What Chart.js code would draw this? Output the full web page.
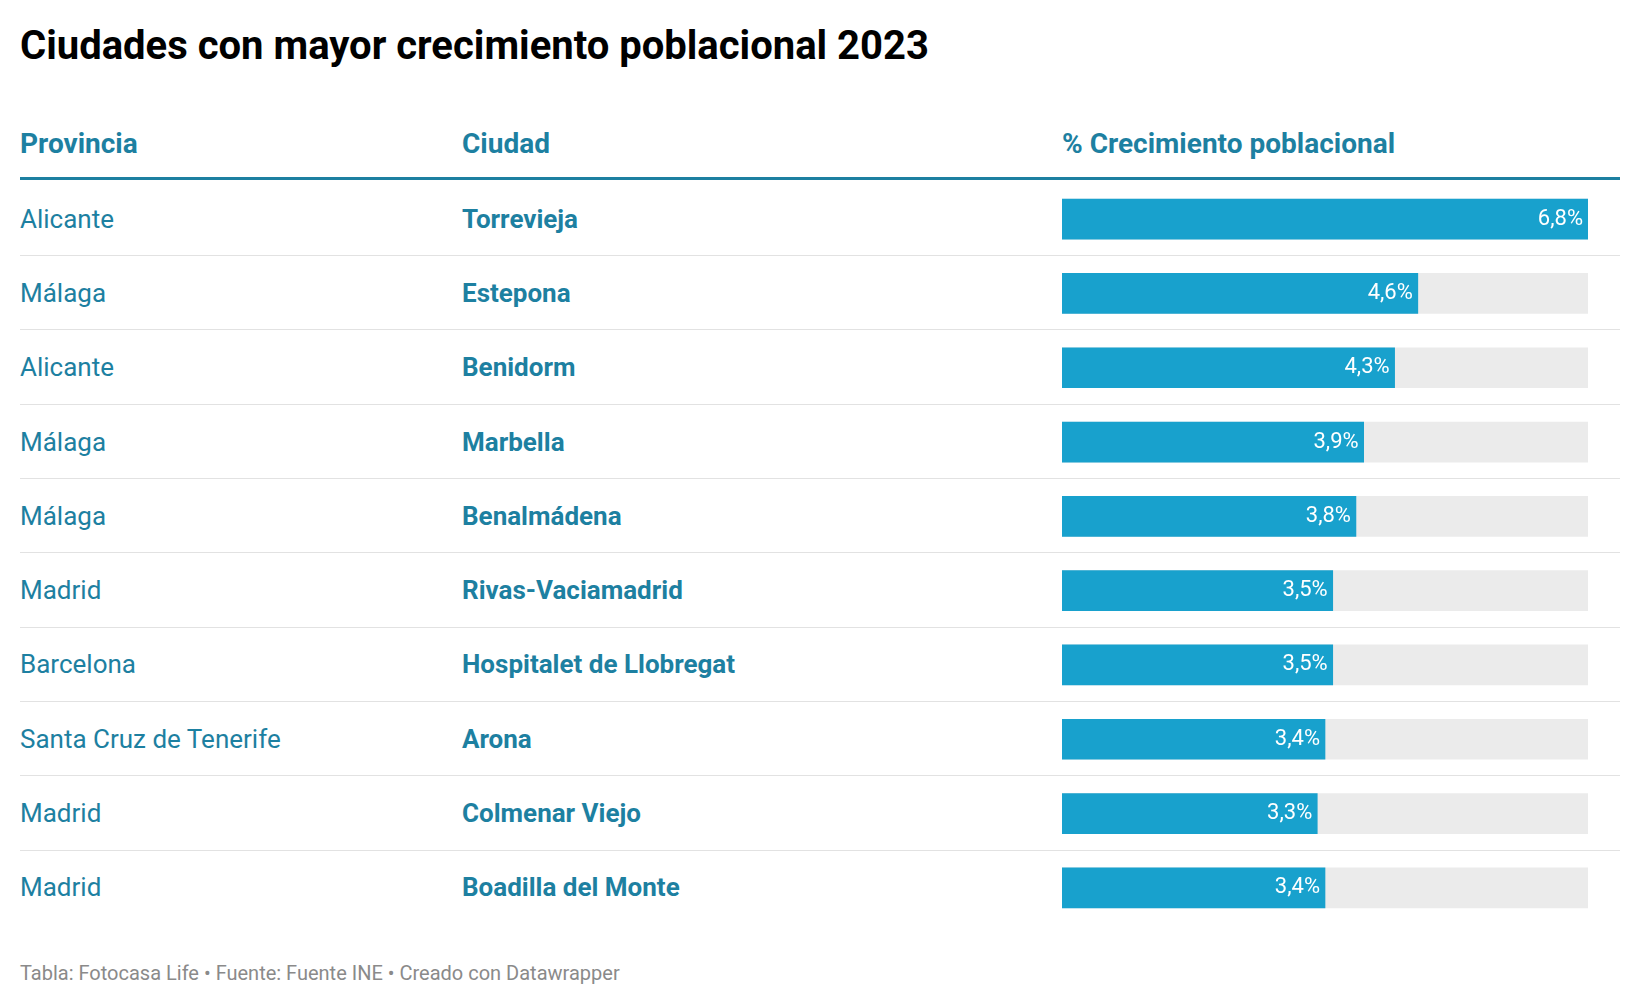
<!DOCTYPE html>
<html>
<head>
<meta charset="utf-8">
<script src="https://cdn.jsdelivr.net/npm/chart.js@4"></script>
<style>
  body { margin: 0; background: #fff; font-family: Roboto, sans-serif; }
  #wrap { position: relative; width: 1640px; height: 1006px; }
  .abs { position: absolute; white-space: nowrap; }
  h1 { position: absolute; left: 20px; top: 22px; margin: 0; font-size: 40px; font-weight: 700; color: #000; }
  .head { font-size: 28px; font-weight: 700; color: #1d80a1; top: 127px; }
  .cell { font-size: 26px; color: #1d80a1; line-height: 30px; }
  .bold { font-weight: 700; }
  .sep { position: absolute; left: 20px; width: 1600px; height: 1px; background: #e2e2e2; }
  #foot { left: 20px; top: 961px; font-size: 20px; color: #8a8a8a; }
  #chartBox { position: absolute; left: 1062px; top: 181.5px; width: 526px; height: 743px; }
</style>
</head>
<body>
<div id="wrap">
  <h1>Ciudades con mayor crecimiento poblacional 2023</h1>
  <div class="abs head" style="left:20px">Provincia</div>
  <div class="abs head" style="left:462px">Ciudad</div>
  <div class="abs head" style="left:1062px">% Crecimiento poblacional</div>
  <div class="abs" style="left:20px; top:177px; width:1600px; height:3px; background:#1d80a1"></div>
  <div id="rows"></div>
  <div id="chartBox"><canvas id="barChart"></canvas></div>
  <div class="abs" id="foot">Tabla: Fotocasa Life • Fuente: Fuente INE • Creado con Datawrapper</div>
</div>
<script>
const provincias = ['Alicante', 'Málaga', 'Alicante', 'Málaga', 'Málaga', 'Madrid', 'Barcelona', 'Santa Cruz de Tenerife', 'Madrid', 'Madrid'];
const ciudades = ['Torrevieja', 'Estepona', 'Benidorm', 'Marbella', 'Benalmádena', 'Rivas-Vaciamadrid', 'Hospitalet de Llobregat', 'Arona', 'Colmenar Viejo', 'Boadilla del Monte'];
const crecimiento = [6.8, 4.6, 4.3, 3.9, 3.8, 3.5, 3.5, 3.4, 3.3, 3.4];
const maxValor = 6.8;

// texto de filas
const rows = document.getElementById('rows');
provincias.forEach((p, i) => {
    const y = 218.6 + 74.3 * i;
    rows.innerHTML += `
        <div class="abs cell" style="left:20px; top:${y - 15}px">${p}</div>
        <div class="abs cell bold" style="left:462px; top:${y - 15}px">${ciudades[i]}</div>`;
    if (i < provincias.length - 1) {
        rows.innerHTML += `<div class="sep" style="top:${y + 36.5}px"></div>`;
    }
});

const valueLabels = {
    id: 'valueLabels',
    afterDatasetsDraw(chart) {
        const c = chart.ctx;
        const meta = chart.getDatasetMeta(1);
        c.save();
        c.font = '22px Roboto';
        c.fillStyle = '#fff';
        c.textAlign = 'right';
        c.textBaseline = 'middle';
        meta.data.forEach((bar, i) => {
            c.fillText(crecimiento[i].toFixed(1).replace('.', ',') + '%', bar.x - 5, bar.y);
        });
        c.restore();
    }
};

new Chart(document.getElementById('barChart'), {
    type: 'bar',
    data: {
        labels: ciudades,
        datasets: [{
            data: crecimiento.map(() => maxValor),
            backgroundColor: '#ebebeb',
            barThickness: 40,
            grouped: false,
            order: 2
        }, {
            data: crecimiento,
            backgroundColor: '#18a1cd',
            barThickness: 40,
            grouped: false,
            order: 1
        }]
    },
    options: {
        indexAxis: 'y',
        responsive: true,
        maintainAspectRatio: false,
        animation: false,
        layout: { padding: 0 },
        plugins: { legend: { display: false }, tooltip: { enabled: false } },
        scales: {
            x: { display: false, min: 0, max: maxValor },
            y: { display: false }
        }
    },
    plugins: [valueLabels]
});
</script>
</body>
</html>
